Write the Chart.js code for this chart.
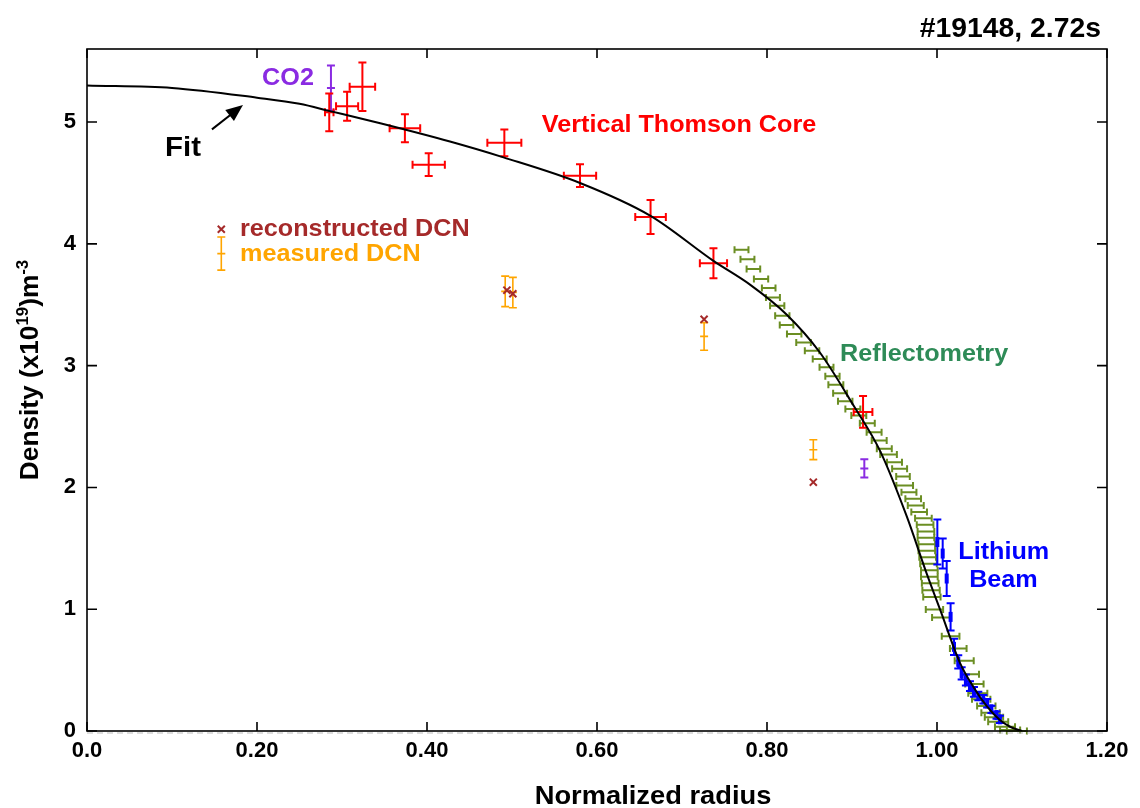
<!DOCTYPE html>
<html>
<head>
<meta charset="utf-8">
<script src="https://cdn.jsdelivr.net/npm/chart.js@4.4.1/dist/chart.umd.min.js"></script>
<style>
  html, body { margin: 0; padding: 0; background: #fff; }
  #wrap { width: 1140px; height: 808px; }
</style>
</head>
<body>
<div id="wrap"><canvas id="chart" width="1140" height="808"></canvas></div>
<script>
// ===== AXES =====
const xTickValues = [0, 0.2, 0.4, 0.6, 0.8, 1.0, 1.2];
const xTickLabels = ['0.0', '0.20', '0.40', '0.60', '0.80', '1.00', '1.20'];
const yTickValues = [0, 1, 2, 3, 4, 5];
const yTickLabels = ['0', '1', '2', '3', '4', '5'];

// ===== FIT =====
const fitX = [0, 0.1, 0.2, 0.25, 0.286, 0.345, 0.427, 0.49, 0.58, 0.663, 0.737, 0.78, 0.823, 0.862, 0.902, 0.933, 0.964, 0.988, 1.004, 1.027, 1.043, 1.059, 1.074, 1.086, 1.10];
const fitY = [5.30, 5.28, 5.20, 5.15, 5.09, 4.99, 4.84, 4.71, 4.50, 4.23, 3.86, 3.665, 3.42, 3.11, 2.67, 2.30, 1.77, 1.29, 0.99, 0.56, 0.36, 0.20, 0.09, 0.035, 0.0];

// ===== VERTICAL THOMSON CORE =====
const tsX    = [0.285, 0.306, 0.324, 0.374, 0.402, 0.491, 0.580, 0.663, 0.737, 0.913];
const tsY    = [5.08, 5.13, 5.29, 4.95, 4.65, 4.83, 4.56, 4.22, 3.84, 2.62];
const tsXErr = [0.005, 0.013, 0.015, 0.018, 0.019, 0.020, 0.019, 0.018, 0.016, 0.011];
const tsYErr = [0.155, 0.12, 0.20, 0.115, 0.093, 0.11, 0.093, 0.14, 0.123, 0.13];

// ===== CO2 =====
const co2X    = [0.287, 0.9145];
const co2Y    = [5.28, 2.156];
const co2YErr = [0.185, 0.075];

// ===== DCN =====
const dcnX    = [0.492, 0.501, 0.726, 0.8545];
const dcnY    = [3.61, 3.60, 3.24, 2.31];
const dcnYErr = [0.125, 0.125, 0.113, 0.082];
const dcnRecX = [0.494, 0.501, 0.726, 0.8545];
const dcnRecY = [3.62, 3.59, 3.38, 2.043];

// ===== REFLECTOMETRY =====
const reflX = [0.770, 0.777, 0.784, 0.793, 0.802, 0.807, 0.812, 0.818, 0.823, 0.832,
               0.843, 0.853, 0.862, 0.870, 0.877, 0.881, 0.886, 0.892, 0.901, 0.908,
               0.918, 0.926, 0.932, 0.938, 0.943, 0.950, 0.956, 0.960, 0.962, 0.967,
               0.972, 0.975, 0.979, 0.984, 0.986, 0.987, 0.987, 0.988, 0.988, 0.989,
               0.990, 0.991, 0.991, 0.992, 0.993, 0.994, 0.997, 1.005, 1.016, 1.025,
               1.032, 1.039, 1.044, 1.048, 1.052, 1.058, 1.063, 1.067, 1.072, 1.080,
               1.086, 1.094];
const reflY = [3.951, 3.874, 3.793, 3.711, 3.637, 3.560, 3.492, 3.410, 3.334, 3.260,
               3.191, 3.123, 3.055, 2.986, 2.912, 2.844, 2.773, 2.707, 2.645, 2.590,
               2.527, 2.453, 2.385, 2.317, 2.270, 2.207, 2.153, 2.090, 2.016, 1.961,
               1.907, 1.852, 1.798, 1.746, 1.693, 1.639, 1.586, 1.533, 1.480, 1.426,
               1.373, 1.320, 1.266, 1.213, 1.156, 1.100, 0.998, 0.932, 0.779, 0.678,
               0.576, 0.467, 0.385, 0.309, 0.260, 0.205, 0.150, 0.112, 0.076, 0.035,
               0.008, 0.0];
const reflXErr = [0.0082, 0.0082, 0.0080, 0.0084, 0.0080, 0.0082, 0.0084, 0.0084, 0.0080, 0.0085,
                  0.0086, 0.0085, 0.0082, 0.0082, 0.0084, 0.0088, 0.0082, 0.0085, 0.0088, 0.0088,
                  0.0088, 0.0088, 0.0088, 0.0088, 0.0098, 0.0088, 0.0088, 0.0080, 0.0098, 0.0088,
                  0.0092, 0.0094, 0.0092, 0.0098, 0.0098, 0.0098, 0.0098, 0.0098, 0.0098, 0.0098,
                  0.0098, 0.0098, 0.0098, 0.0098, 0.0102, 0.0102, 0.0102, 0.0108, 0.0104, 0.0098,
                  0.0112, 0.0104, 0.0108, 0.0112, 0.0108, 0.0108, 0.0108, 0.0108, 0.0118, 0.0118,
                  0.0118, 0.0118];

// ===== LITHIUM BEAM =====
const liX    = [1.0004, 1.0067, 1.0114, 1.016, 1.020, 1.025, 1.029, 1.034, 1.0388, 1.0435, 1.0486, 1.0545, 1.059, 1.064, 1.070, 1.074];
const liY    = [1.552, 1.457, 1.252, 0.937, 0.691, 0.568, 0.473, 0.418, 0.369, 0.322, 0.287, 0.260, 0.227, 0.178, 0.131, 0.096];
const liYErr = [0.184, 0.123, 0.143, 0.112, 0.066, 0.055, 0.05, 0.045, 0.04, 0.04, 0.035, 0.035, 0.035, 0.03, 0.03, 0.03];

// ===== LEGEND SAMPLES (DCN) =====
const legCrossX = [0.158], legCrossY = [4.12];
const legBarX = [0.158], legBarY = [3.92], legBarYErr = [0.136];

// ===== COLOURS =====
const C = {
  thomson: '#ff0000', co2: '#8a2be2', dcnRec: '#a52a2a', dcn: '#ffa500',
  refl: '#6b8e23', reflText: '#2e8b57', li: '#0000ff', fit: '#000000'
};
const FONT = '"Liberation Sans", Arial, Helvetica, sans-serif';

const pts = (xs, ys) => xs.map((x, i) => ({ x, y: ys[i] }));

// ===== ERROR BAR PLUGIN =====
const errorBars = {
  id: 'errorBars',
  beforeDatasetsDraw(chart) {
    const { ctx, scales: { x, y } } = chart;
    ctx.save();
    ctx.beginPath();
    ctx.rect(chart.chartArea.left, chart.chartArea.top, chart.chartArea.width, chart.chartArea.height + 4);
    ctx.clip();
    chart.data.datasets.forEach(ds => {
      const eb = ds.errorBars;
      if (!eb) return;
      ctx.strokeStyle = ds.borderColor;
      ctx.fillStyle = ds.borderColor;
      ctx.lineWidth = eb.lineWidth;
      ds.data.forEach((p, i) => {
        const px = x.getPixelForValue(p.x), py = y.getPixelForValue(p.y);
        ctx.beginPath();
        if (eb.yErr) {
          const y1 = y.getPixelForValue(p.y + eb.yErr[i]), y2 = y.getPixelForValue(p.y - eb.yErr[i]);
          ctx.moveTo(px, y1); ctx.lineTo(px, y2);
          ctx.moveTo(px - eb.cap, y1); ctx.lineTo(px + eb.cap, y1);
          ctx.moveTo(px - eb.cap, y2); ctx.lineTo(px + eb.cap, y2);
          if (eb.mid) { ctx.moveTo(px - eb.cap, py); ctx.lineTo(px + eb.cap, py); }
        }
        if (eb.xErr) {
          const x1 = x.getPixelForValue(p.x - eb.xErr[i]), x2 = x.getPixelForValue(p.x + eb.xErr[i]);
          ctx.moveTo(x1, py); ctx.lineTo(x2, py);
          ctx.moveTo(x1, py - eb.cap); ctx.lineTo(x1, py + eb.cap);
          ctx.moveTo(x2, py - eb.cap); ctx.lineTo(x2, py + eb.cap);
        }
        ctx.stroke();
        if (eb.block) ctx.fillRect(px - 2, py - 5, 4, 10);
      });
    });
    ctx.restore();
  }
};

// ===== FRAME, TICKS, TEXTS =====
const labels = [
  { text: 'CO2', x: 0.206, y: 5.303, color: C.co2, size: 24 },
  { text: 'Vertical Thomson Core', x: 0.535, y: 4.92, color: C.thomson, size: 24 },
  { text: 'Fit', x: 0.0918, y: 4.721, color: '#000', size: 28 },
  { text: 'reconstructed DCN', x: 0.18, y: 4.066, color: C.dcnRec, size: 24 },
  { text: 'measured DCN', x: 0.18, y: 3.861, color: C.dcn, size: 24 },
  { text: 'Reflectometry', x: 0.886, y: 3.035, color: C.reflText, size: 24 },
  { text: 'Lithium', x: 1.025, y: 1.415, color: C.li, size: 24 },
  { text: 'Beam', x: 1.0378, y: 1.183, color: C.li, size: 24 }
];
const fitArrow = { from: [0.147, 4.94], to: [0.1835, 5.14] };

function txt(ctx, s, x, y, size, color, align, sx) {
  ctx.save();
  ctx.font = 'bold ' + size + 'px ' + FONT;
  ctx.fillStyle = color;
  ctx.textAlign = align || 'left';
  ctx.textBaseline = 'alphabetic';
  ctx.translate(x, y);
  ctx.scale(sx || 1.05, 1);
  ctx.fillText(s, 0, 0);
  ctx.restore();
}

const frame = {
  id: 'frame',
  afterDraw(chart) {
    const { ctx, chartArea: a, scales: { x, y } } = chart;
    ctx.save();
    // zero line (dashed grey under the axis)
    ctx.strokeStyle = '#bbb'; ctx.lineWidth = 1; ctx.setLineDash([6, 4]);
    ctx.beginPath(); ctx.moveTo(a.left, y.getPixelForValue(0) + 2); ctx.lineTo(a.right, y.getPixelForValue(0) + 2); ctx.stroke();
    ctx.setLineDash([]);
    ctx.strokeStyle = '#000'; ctx.lineWidth = 1.6;
    ctx.strokeRect(a.left, a.top, a.width, a.height);
    ctx.beginPath();
    xTickValues.forEach(v => {
      const px = x.getPixelForValue(v);
      ctx.moveTo(px, a.bottom); ctx.lineTo(px, a.bottom - 9);
      ctx.moveTo(px, a.top); ctx.lineTo(px, a.top + 9);
    });
    yTickValues.forEach(v => {
      const py = y.getPixelForValue(v);
      ctx.moveTo(a.left, py); ctx.lineTo(a.left + 10, py);
      ctx.moveTo(a.right, py); ctx.lineTo(a.right - 10, py);
    });
    ctx.stroke();

    // annotations
    labels.forEach(l => txt(ctx, l.text, x.getPixelForValue(l.x), y.getPixelForValue(l.y), l.size, l.color));

    // Fit arrow
    const fx = x.getPixelForValue(fitArrow.from[0]), fy = y.getPixelForValue(fitArrow.from[1]);
    const tx = x.getPixelForValue(fitArrow.to[0]), ty = y.getPixelForValue(fitArrow.to[1]);
    const ang = Math.atan2(ty - fy, tx - fx);
    ctx.strokeStyle = '#000'; ctx.fillStyle = '#000'; ctx.lineWidth = 2;
    ctx.beginPath(); ctx.moveTo(fx, fy); ctx.lineTo(tx - 10 * Math.cos(ang), ty - 10 * Math.sin(ang)); ctx.stroke();
    ctx.beginPath();
    ctx.moveTo(tx, ty);
    ctx.lineTo(tx - 17 * Math.cos(ang) + 7 * Math.sin(ang), ty - 17 * Math.sin(ang) - 7 * Math.cos(ang));
    ctx.lineTo(tx - 17 * Math.cos(ang) - 7 * Math.sin(ang), ty - 17 * Math.sin(ang) + 7 * Math.cos(ang));
    ctx.closePath(); ctx.fill();

    // shot title
    txt(ctx, '#19148, 2.72s', a.right - 6, a.top - 12, 27, '#000', 'right');

    // axis titles
    txt(ctx, 'Normalized radius', 653, 804, 26, '#000', 'center');
    ctx.translate(38, 370);
    ctx.rotate(-Math.PI / 2);
    const parts = [['Density (x10', 25, 0], ['19', 16, -10], [')m', 25, 0], ['-3', 16, -10]];
    let w = 0;
    parts.forEach(p => { ctx.font = 'bold ' + p[1] + 'px ' + FONT; w += ctx.measureText(p[0]).width * 1.05; });
    let cx = -w / 2;
    parts.forEach(p => {
      ctx.font = 'bold ' + p[1] + 'px ' + FONT;
      txt(ctx, p[0], cx, p[2], p[1], '#000', 'left');
      cx += ctx.measureText(p[0]).width * 1.05;
    });
    ctx.restore();
  }
};

// ===== CHART =====
new Chart(document.getElementById('chart'), {
  type: 'scatter',
  data: {
    datasets: [
      { label: 'Reflectometry', data: pts(reflX, reflY), borderColor: C.refl, pointRadius: 0,
        errorBars: { xErr: reflXErr, cap: 3.5, lineWidth: 2 } },
      { label: 'measured DCN', data: pts(dcnX, dcnY), borderColor: C.dcn, pointRadius: 0,
        errorBars: { yErr: dcnYErr, cap: 4, lineWidth: 1.6, mid: true } },
      { label: 'measured DCN sample', data: pts(legBarX, legBarY), borderColor: C.dcn, pointRadius: 0,
        errorBars: { yErr: legBarYErr, cap: 4, lineWidth: 1.6, mid: true } },
      { label: 'CO2', data: pts(co2X, co2Y), borderColor: C.co2, pointRadius: 0,
        errorBars: { yErr: co2YErr, cap: 4, lineWidth: 2, mid: true } },
      { label: 'Vertical Thomson Core', data: pts(tsX, tsY), borderColor: C.thomson, pointRadius: 0,
        errorBars: { xErr: tsXErr, yErr: tsYErr, cap: 4, lineWidth: 2 } },
      { label: 'Lithium Beam', data: pts(liX, liY), borderColor: C.li, pointRadius: 0,
        errorBars: { yErr: liYErr, cap: 4, lineWidth: 2, block: true } },
      { label: 'Fit', type: 'line', data: pts(fitX, fitY), borderColor: C.fit, borderWidth: 2,
        pointRadius: 0, cubicInterpolationMode: 'monotone', fill: false },
      { label: 'reconstructed DCN', data: pts(dcnRecX, dcnRecY), borderColor: C.dcnRec,
        pointStyle: 'crossRot', pointRadius: 5, borderWidth: 2 },
      { label: 'reconstructed DCN sample', data: pts(legCrossX, legCrossY), borderColor: C.dcnRec,
        pointStyle: 'crossRot', pointRadius: 5, borderWidth: 2 }
    ]
  },
  options: {
    responsive: false,
    animation: false,
    devicePixelRatio: 1,
    layout: { padding: { left: 0, top: 49, right: 33, bottom: 0 } },
    plugins: { legend: { display: false }, tooltip: { enabled: false } },
    scales: {
      x: {
        type: 'linear', min: 0, max: 1.2,
        grid: { display: false, drawTicks: false }, border: { display: false },
        afterBuildTicks: s => { s.ticks = xTickValues.map(v => ({ value: v })); },
        afterFit: s => { s.height = 77; },
        ticks: {
          color: '#000', padding: 7, maxRotation: 0, autoSkip: false,
          font: { family: FONT, size: 22, weight: 'bold' },
          callback: (v, i) => xTickLabels[i]
        }
      },
      y: {
        type: 'linear', min: 0, max: 5.6,
        grid: { display: false, drawTicks: false }, border: { display: false },
        afterBuildTicks: s => { s.ticks = yTickValues.map(v => ({ value: v })); },
        afterFit: s => { s.width = 87; },
        ticks: {
          color: '#000', padding: 11,
          font: { family: FONT, size: 22, weight: 'bold' },
          callback: (v, i) => yTickLabels[i]
        }
      }
    }
  },
  plugins: [errorBars, frame]
});
</script>
</body>
</html>
